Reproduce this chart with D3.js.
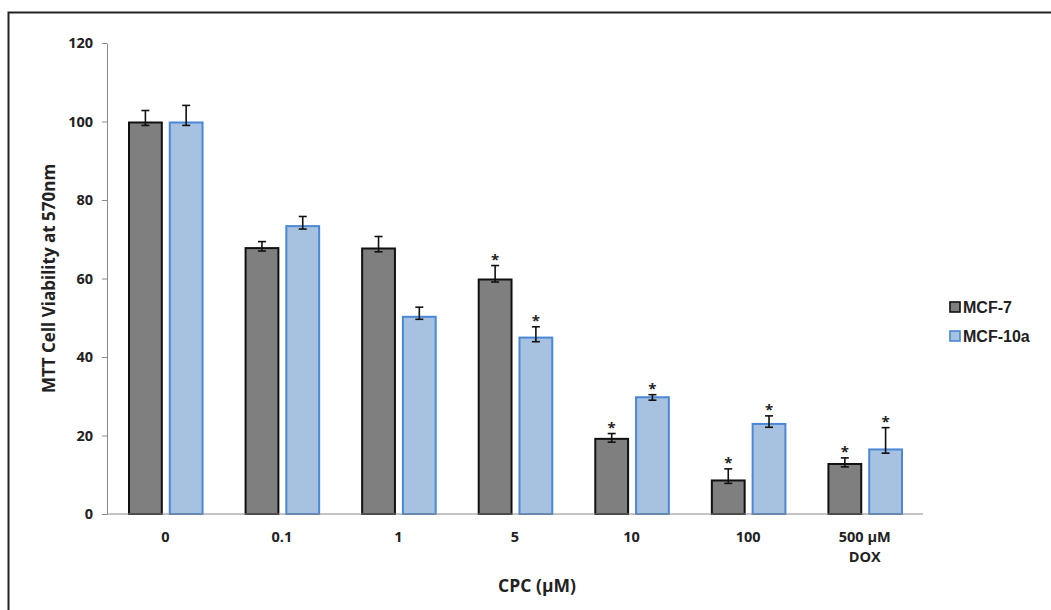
<!DOCTYPE html>
<html>
<head>
<meta charset="utf-8">
<script src="https://cdn.jsdelivr.net/npm/d3@7"></script>
<style>
  body { margin: 0; background: #fff; }
  svg { display: block; }
  text { font-family: "Open Sans", "Liberation Sans", sans-serif; font-weight: bold; fill: #222; }
  .legend text { font-family: "Liberation Sans", Arial, sans-serif; }
</style>
</head>
<body>
<svg id="chart"></svg>
<script>
// data
const categories = ['0', '0.1', '1', '5', '10', '100', '500 µM|DOX']
const series = ['MCF-7', 'MCF-10a']
const mcf7 = [100, 68, 67.9, 60, 19.4, 8.8, 13]
const mcf10a = [100, 73.6, 50.5, 45.2, 30, 23.2, 16.7]
const mcf7ErrUp = [2.8, 1.4, 2.8, 3.3, 1.1, 2.7, 1.3]
const mcf7ErrDown = [1, 1, 1.1, 0.9, 1.1, 1, 1]
const mcf10aErrUp = [4.1, 2.2, 2.2, 2.5, 0.4, 1.8, 5.3]
const mcf10aErrDown = [1, 1, 0.9, 1.3, 1, 1.1, 1.2]
const mcf7Sig = [false, false, false, true, true, true, true]
const mcf10aSig = [false, false, false, true, true, true, true]
const yTicks = [0, 20, 40, 60, 80, 100, 120]

const W = 1051, H = 610
const margin = { top: 43, right: 128, bottom: 96, left: 107 }

const svg = d3.select('#chart').attr('width', W).attr('height', H)

// outer frame (only top and left edges are visible)
svg.append('path')
	.attr('d', `M8.5,${H} V12.5 H${W}`)
	.attr('fill', 'none')
	.attr('stroke', '#222')
	.attr('stroke-width', 2)

const x0 = d3.scaleBand()
	.domain(categories)
	.range([margin.left, W - margin.right])

const x1 = d3.scaleBand()
	.domain(series)
	.range([21, x0.bandwidth() - 20])
	.paddingInner(0.146)

const y = d3.scaleLinear()
	.domain([0, 120])
	.range([H - margin.bottom, margin.top])

const styles = {
	'MCF-7': { fill: '#7f7f7f', stroke: '#111' },
	'MCF-10a': { fill: '#a7c1e0', stroke: '#4a87d6' }
}

const rows = categories.map((c, i) => ({
	cat: c,
	vals: [
		{ s: 'MCF-7', v: mcf7[i], up: mcf7ErrUp[i], down: mcf7ErrDown[i], sig: mcf7Sig[i] },
		{ s: 'MCF-10a', v: mcf10a[i], up: mcf10aErrUp[i], down: mcf10aErrDown[i], sig: mcf10aSig[i] }
	]
}))

// y axis
const yAxis = svg.append('g')
	.attr('transform', `translate(${margin.left},0)`)
	.call(d3.axisLeft(y).tickValues(yTicks).tickSize(5).tickPadding(9).tickSizeOuter(0))
yAxis.select('.domain').attr('stroke', '#8a8a8a')
yAxis.selectAll('.tick line').attr('stroke', '#8a8a8a')
yAxis.selectAll('.tick text')
	.attr('font-size', 14.5)
	.attr('font-family', '"Open Sans", sans-serif')
	.attr('font-weight', 'bold')
	.attr('fill', '#222')

// bars
const groups = svg.selectAll('g.cat')
	.data(rows)
	.enter()
	.append('g')
		.attr('class', 'cat')
		.attr('transform', d => `translate(${x0(d.cat)},0)`)

const sw = 2
groups.selectAll('rect')
	.data(d => d.vals)
	.enter()
	.append('rect')
		.attr('x', d => x1(d.s) + sw / 2)
		.attr('y', d => y(d.v) + sw / 2)
		.attr('width', x1.bandwidth() - sw)
		.attr('height', d => y(0) - y(d.v) - sw / 2)
		.attr('fill', d => styles[d.s].fill)
		.attr('stroke', d => styles[d.s].stroke)
		.attr('stroke-width', sw)

// error bars
const cap = 4
const err = groups.selectAll('g.err')
	.data(d => d.vals)
	.enter()
	.append('g')
		.attr('class', 'err')
		.attr('stroke', '#111')
		.attr('stroke-width', 1.6)

err.append('line')
	.attr('x1', d => x1(d.s) + x1.bandwidth() / 2)
	.attr('x2', d => x1(d.s) + x1.bandwidth() / 2)
	.attr('y1', d => y(d.v + d.up))
	.attr('y2', d => y(d.v - d.down))
err.append('line')
	.attr('x1', d => x1(d.s) + x1.bandwidth() / 2 - cap)
	.attr('x2', d => x1(d.s) + x1.bandwidth() / 2 + cap)
	.attr('y1', d => y(d.v + d.up))
	.attr('y2', d => y(d.v + d.up))
err.append('line')
	.attr('x1', d => x1(d.s) + x1.bandwidth() / 2 - cap)
	.attr('x2', d => x1(d.s) + x1.bandwidth() / 2 + cap)
	.attr('y1', d => y(d.v - d.down))
	.attr('y2', d => y(d.v - d.down))

// significance stars
groups.selectAll('text.star')
	.data(d => d.vals.filter(v => v.sig))
	.enter()
	.append('text')
		.attr('class', 'star')
		.attr('x', d => x1(d.s) + x1.bandwidth() / 2)
		.attr('y', d => y(d.v + d.up) - 1)
		.attr('text-anchor', 'middle')
		.attr('font-family', '"Liberation Sans", Arial, sans-serif')
		.attr('font-size', 15)
		.attr('font-weight', 'normal')
		.attr('fill', '#333')
		.text('*')

// x axis
svg.append('line')
	.attr('x1', margin.left)
	.attr('x2', W - margin.right)
	.attr('y1', y(0))
	.attr('y2', y(0))
	.attr('stroke', '#8a8a8a')

const xl = svg.selectAll('text.xlab')
	.data(categories)
	.enter()
	.append('text')
		.attr('class', 'xlab')
		.attr('x', d => x0(d) + x0.bandwidth() / 2)
		.attr('y', y(0) + 28)
		.attr('text-anchor', 'middle')
		.attr('font-size', 14.5)
xl.selectAll('tspan')
	.data(d => d.split('|'))
	.enter()
	.append('tspan')
		.attr('x', function () { return d3.select(this.parentNode).attr('x') })
		.attr('dy', (d, i) => i ? 20 : 0)
		.text(d => d)

// axis titles
svg.append('text')
	.attr('transform', `translate(55,${(y(0) + y(120)) / 2}) rotate(-90)`)
	.attr('text-anchor', 'middle')
	.attr('font-size', 17)
	.text('MTT Cell Viability at 570nm')

svg.append('text')
	.attr('x', 537)
	.attr('y', 592)
	.attr('text-anchor', 'middle')
	.attr('font-size', 17.5)
	.text('CPC (µM)')

// legend
const legend = svg.selectAll('g.legend')
	.data(series)
	.enter()
	.append('g')
		.attr('class', 'legend')
		.attr('transform', (d, i) => `translate(950,${307 + i * 29})`)
legend.append('rect')
	.attr('x', 0)
	.attr('y', -5)
	.attr('width', 10)
	.attr('height', 10)
	.attr('fill', d => styles[d].fill)
	.attr('stroke', d => styles[d].stroke)
	.attr('stroke-width', 1.6)
legend.append('text')
	.attr('x', 13)
	.attr('y', 6)
	.attr('font-size', 16)
	.text(d => d)
</script>
</body>
</html>
